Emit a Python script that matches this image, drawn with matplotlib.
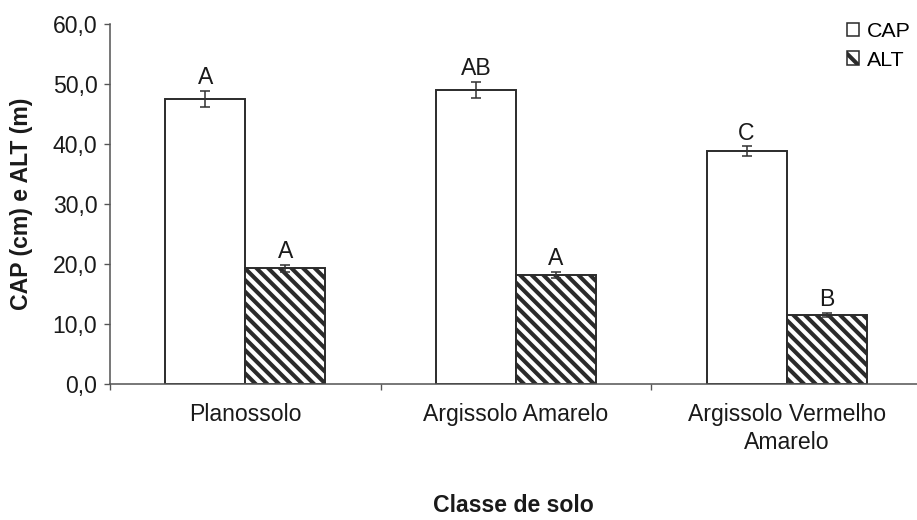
import matplotlib
matplotlib.use("Agg")
import matplotlib.pyplot as plt
import numpy as np
from matplotlib.patches import Patch

# Soil classes and measured means (with standard errors)
classes = ["Planossolo", "Argissolo Amarelo", "Argissolo Vermelho\nAmarelo"]
cap_mean = [47.5, 49.0, 38.8]
cap_err = [1.4, 1.4, 0.8]
alt_mean = [19.3, 18.2, 11.5]
alt_err = [0.6, 0.5, 0.3]
cap_letters = ["A", "AB", "C"]
alt_letters = ["A", "A", "B"]
y_ticks = [0, 10, 20, 30, 40, 50, 60]

DPI = 140
W, H = 917, 520
plt.rcParams["font.family"] = ["Liberation Sans", "DejaVu Sans"]
plt.rcParams["hatch.linewidth"] = 2.1
plt.rcParams["hatch.color"] = "#33403b"

fig = plt.figure(figsize=(W / DPI, H / DPI), dpi=DPI)
left, right_px, top_px, bottom_px = 110, 922, 24, 384
ax = fig.add_axes([left / W, 1 - bottom_px / H, (right_px - left) / W, (bottom_px - top_px) / H])

x = np.arange(len(classes))
bw = 0.296
edge = "#2b2b2b"
hatch = "\\\\\\\\"
ax.bar(x - bw / 2, cap_mean, width=bw, color="white", edgecolor=edge, linewidth=1.0, zorder=2)
ax.bar(x + bw / 2, alt_mean, width=bw, color="white", edgecolor=edge, linewidth=1.0,
       hatch=hatch, zorder=2)

ekw = dict(fmt="none", ecolor="#333333", elinewidth=0.8, capsize=2.8, capthick=0.8, zorder=3)
ax.errorbar(x - bw / 2, cap_mean, yerr=cap_err, **ekw)
ax.errorbar(x + bw / 2, alt_mean, yerr=alt_err, **ekw)

fs = 11.8
txt = "#1a1a1a"
for xi, m, e, t in zip(x - bw / 2, cap_mean, cap_err, cap_letters):
    ax.text(xi, m + e + 1.15, t, ha="center", va="baseline", fontsize=fs, color=txt)
for xi, m, e, t in zip(x + bw / 2, alt_mean, alt_err, alt_letters):
    ax.text(xi, m + e + 1.15, t, ha="center", va="baseline", fontsize=fs, color=txt)

ax.set_xlim(-0.5, 2.5)
ax.set_ylim(0, 60)
ax.set_yticks(y_ticks)
ax.set_yticklabels([f"{v:.1f}".replace(".", ",") for v in y_ticks], fontsize=fs, color=txt)
ax.set_xticks(x)
ax.set_xticklabels(classes, fontsize=fs, color=txt, linespacing=1.25)
ax.set_xticks([-0.5, 0.5, 1.5, 2.5], minor=True)
ax.tick_params(axis="x", which="major", length=0, pad=10)
ax.tick_params(axis="x", which="minor", length=3, width=0.7, color="#555555", direction="out")
ax.tick_params(axis="y", length=3, width=0.7, color="#555555", direction="out", pad=3.5)

for s in ["top", "right"]:
    ax.spines[s].set_visible(False)
for s in ["left", "bottom"]:
    ax.spines[s].set_color("#555555")
    ax.spines[s].set_linewidth(0.8)

fig.text(22 / W, 1 - 204 / H, "CAP (cm) e ALT (m)", rotation=90, ha="center", va="center",
         fontsize=11.8, fontweight="bold", color=txt)
fig.text(513 / W, 1 - 505 / H, "Classe de solo", ha="center", va="center",
         fontsize=fs, fontweight="bold", color=txt)

handles = [Patch(facecolor="white", edgecolor=edge, linewidth=0.8, label="CAP"),
           Patch(facecolor="white", edgecolor=edge, linewidth=0.8, hatch="\\\\", label="ALT")]
fig.legend(handles=handles, loc="upper left", bbox_to_anchor=(847 / W, 1 - 22 / H),
           frameon=False, fontsize=11, handlelength=0.58, handleheight=0.58,
           handletextpad=0.35, labelspacing=0.45, borderaxespad=0, borderpad=0)

fig.savefig("out.png", dpi=DPI)
